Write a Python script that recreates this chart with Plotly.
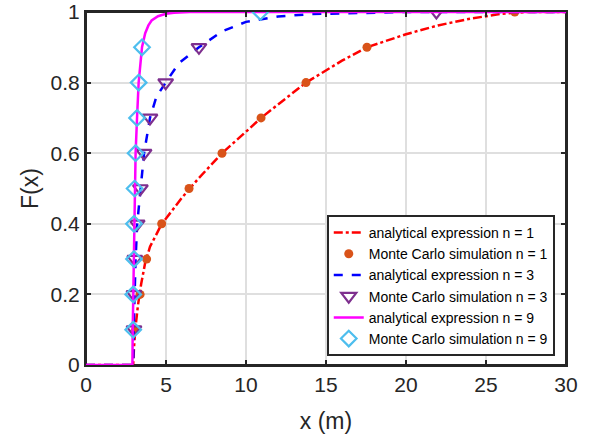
import plotly.graph_objects as go

# Analytical CDF curves (read at a set of x positions)
x_an1 = [0, 2.95, 3.0, 3.1, 3.25, 3.45, 3.7, 4.0, 4.4, 4.73, 5.0, 6.0, 7.0, 8.5, 10.0, 10.94, 12.0, 13.75, 16.0, 17.56, 20.0, 22.0, 24.0, 26.0, 27.5, 30]
y_an1 = [0, 0, 0.05, 0.11, 0.17, 0.23, 0.29, 0.335, 0.37, 0.40, 0.415, 0.474, 0.527, 0.60, 0.661, 0.70, 0.738, 0.80, 0.862, 0.90, 0.937, 0.962, 0.981, 0.995, 1.0, 1.0]

x_an3 = [0, 2.95, 2.98, 3.02, 3.1, 3.2, 3.4, 3.63, 4.0, 4.4, 4.98, 5.8, 7.06, 8.5, 10.0, 12.0, 14.0, 17.0, 20.0, 30]
y_an3 = [0, 0, 0.1, 0.2, 0.3, 0.4, 0.5, 0.6, 0.7, 0.76, 0.8, 0.855, 0.9, 0.945, 0.972, 0.987, 0.994, 0.998, 1.0, 1.0]

x_an9 = [0, 2.9, 2.92, 2.95, 3.0, 3.04, 3.1, 3.19, 3.29, 3.5, 3.7, 3.9, 4.1, 4.5, 5.0, 5.5, 6.5, 30]
y_an9 = [0, 0, 0.1, 0.2, 0.4, 0.5, 0.6, 0.7, 0.8, 0.9, 0.94, 0.962, 0.976, 0.988, 0.995, 0.998, 1.0, 1.0]

# Monte Carlo samples
f_levels = [0.1, 0.2, 0.3, 0.4, 0.5, 0.6, 0.7, 0.8, 0.9, 1.0]
x_mc1 = [3.1, 3.38, 3.79, 4.73, 6.44, 8.5, 10.94, 13.75, 17.56, 26.8]
x_mc3 = [3.0, 3.0, 3.05, 3.2, 3.4, 3.63, 4.0, 4.98, 7.06, 21.9]
x_mc9 = [2.95, 2.95, 3.0, 3.0, 3.04, 3.1, 3.19, 3.29, 3.5, 10.9]

font = "Liberation Sans, Arial, Helvetica, sans-serif"
frame_color = "#262626"

fig = go.Figure()
fig.add_trace(go.Scatter(x=x_an1, y=y_an1, mode="lines", name="analytical expression n = 1",
                         line=dict(color="#FF0000", width=2.5, dash="dashdot")))
fig.add_trace(go.Scatter(x=x_mc1, y=f_levels, mode="markers", name="Monte Carlo simulation n = 1",
                         marker=dict(color="#D95319", size=9, symbol="circle")))
fig.add_trace(go.Scatter(x=x_an3, y=y_an3, mode="lines", name="analytical expression n = 3",
                         line=dict(color="#0000FF", width=2.5, dash="dash")))
fig.add_trace(go.Scatter(x=x_mc3, y=f_levels, mode="markers", name="Monte Carlo simulation n = 3",
                         marker=dict(color="#7E2F8E", size=13, symbol="triangle-down-open",
                                     line=dict(width=2.2, color="#7E2F8E"))))
fig.add_trace(go.Scatter(x=x_an9, y=y_an9, mode="lines", name="analytical expression n = 9",
                         line=dict(color="#FF00FF", width=2.5)))
fig.add_trace(go.Scatter(x=x_mc9, y=f_levels, mode="markers", name="Monte Carlo simulation n = 9",
                         marker=dict(color="#4DBEEE", size=12, symbol="diamond-open",
                                     line=dict(width=2.2, color="#4DBEEE"))))

axis_common = dict(
    showline=True, linecolor=frame_color, linewidth=2, mirror="ticks",
    ticks="inside", ticklen=5, tickwidth=2, tickcolor=frame_color,
    showgrid=True, gridcolor="#DFDFDF", gridwidth=1.8,
    zeroline=False, automargin=False,
    ticklabeloverflow="allow",
    tickfont=dict(family=font, size=21, color=frame_color),
)

fig.update_layout(
    width=592, height=443,
    margin=dict(l=86, r=26, t=12, b=78),
    paper_bgcolor="white", plot_bgcolor="white",
    font=dict(family=font, color=frame_color),
    xaxis=dict(range=[0, 30], tickvals=[0, 5, 10, 15, 20, 25, 30],
               title=dict(text="x (m)", font=dict(family=font, size=23), standoff=18),
               **axis_common),
    yaxis=dict(range=[0, 1], tickvals=[0, 0.2, 0.4, 0.6, 0.8, 1],
               ticktext=["0", "0.2", "0.4", "0.6", "0.8", "1"],
               title=dict(text="F(x)", font=dict(family=font, size=23), standoff=6),
               **axis_common),
    legend=dict(x=0.977, y=0.025, xanchor="right", yanchor="bottom",
                bgcolor="white", bordercolor=frame_color, borderwidth=1.8,
                font=dict(family=font, size=14, color="#000000"),
                tracegroupgap=0, itemwidth=30),
    showlegend=True,
    # closed axes box, between the grid and the data
    shapes=[dict(type="rect", xref="paper", yref="paper", x0=0, y0=0, x1=1, y1=1,
                 line=dict(color=frame_color, width=2), layer="between")],
)

fig.write_html("out.html")
